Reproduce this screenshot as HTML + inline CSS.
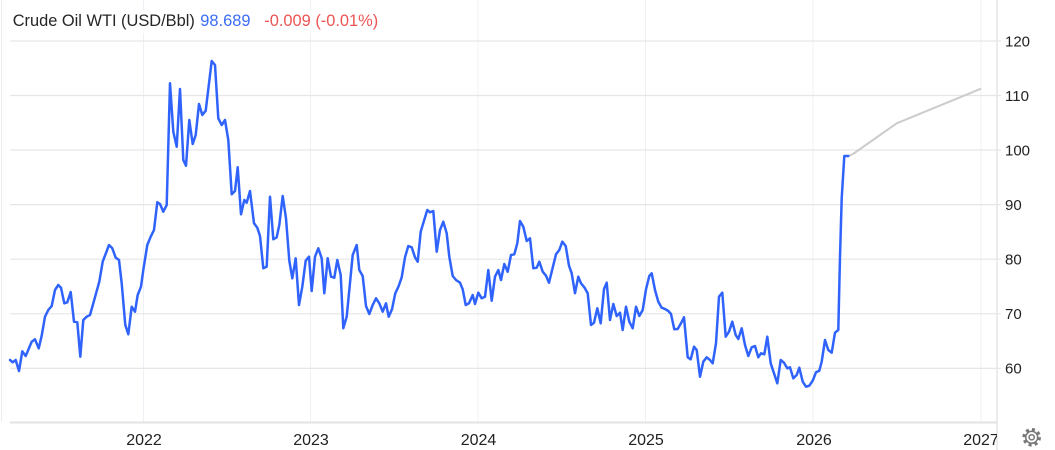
<!DOCTYPE html>
<html>
<head>
<meta charset="utf-8">
<style>
  html,body{margin:0;padding:0;background:#fff;}
  body{width:1055px;height:450px;overflow:hidden;}
  svg{display:block;font-family:"Liberation Sans",Arial,sans-serif;}
</style>
</head>
<body>
<svg width="1055" height="450" viewBox="0 0 1055 450" xmlns="http://www.w3.org/2000/svg">
  <rect x="0" y="0" width="1055" height="450" fill="#fff"/>
  <!-- borders -->
  <line x1="1.5" y1="0" x2="1.5" y2="422" stroke="#ececec" stroke-width="1"/>
  <line x1="997" y1="0" x2="997" y2="450" stroke="#e6e6e6" stroke-width="1.5"/>
  <!-- vertical grid -->
  <g stroke="#edf1f5" stroke-width="1">
    <line x1="143.5" y1="0" x2="143.5" y2="422"/>
    <line x1="310.5" y1="0" x2="310.5" y2="422"/>
    <line x1="478" y1="0" x2="478" y2="422"/>
    <line x1="645.5" y1="0" x2="645.5" y2="422"/>
    <line x1="813" y1="0" x2="813" y2="422"/>
    <line x1="981" y1="0" x2="981" y2="422"/>
  </g>
  <!-- horizontal grid -->
  <g stroke="#e6e6e6" stroke-width="1.2">
    <line x1="10" y1="41" x2="1001" y2="41"/>
    <line x1="10" y1="95.5" x2="1001" y2="95.5"/>
    <line x1="10" y1="150" x2="1001" y2="150"/>
    <line x1="10" y1="204.6" x2="1001" y2="204.6"/>
    <line x1="10" y1="259.2" x2="1001" y2="259.2"/>
    <line x1="10" y1="313.8" x2="1001" y2="313.8"/>
    <line x1="10" y1="368.4" x2="1001" y2="368.4"/>
  </g>
  <line x1="10" y1="422.5" x2="997" y2="422.5" stroke="#e3e3e3" stroke-width="2"/>

  <!-- title background -->
  <rect x="5" y="10" width="385" height="23" fill="#fff"/>
  <text x="12.7" y="26" font-size="16.4" fill="#262626">Crude Oil WTI (USD/Bbl)</text>
  <text x="200.3" y="26" font-size="16.4" fill="#3b6cf6">98.689</text>
  <text x="264.3" y="26" font-size="16.4" fill="#ec5454">-0.009 (-0.01%)</text>

  <!-- y labels -->
  <g font-size="15" fill="#222">
    <text x="1005" y="46.3">120</text>
    <text x="1005" y="100.8">110</text>
    <text x="1005" y="155.3">100</text>
    <text x="1005" y="209.9">90</text>
    <text x="1005" y="264.5">80</text>
    <text x="1005" y="319.1">70</text>
    <text x="1005" y="373.7">60</text>
  </g>
  <!-- x labels -->
  <defs><clipPath id="cx"><rect x="0" y="0" width="997" height="450"/></clipPath></defs>
  <g font-size="16" fill="#222" text-anchor="middle" clip-path="url(#cx)">
    <text x="144" y="445">2022</text>
    <text x="311" y="445">2023</text>
    <text x="478.5" y="445">2024</text>
    <text x="646" y="445">2025</text>
    <text x="814" y="445">2026</text>
    <text x="981" y="445">2027</text>
  </g>

  <!-- forecast -->
  <polyline fill="none" stroke="#cccccc" stroke-width="2" stroke-linejoin="round"
    points="848.3,156 853,154 896.7,123.3 981,88.7"/>
  <!-- series -->
  <polyline fill="none" stroke="#2f63fb" stroke-width="2.5" stroke-linejoin="round" stroke-linecap="round"
    points="10,360 12.7,362.3 15.7,360 19,371 22.3,351.3 25.7,356 31.7,341.7 35,339.3 38.7,348.3 41.7,335.7 45,316.7 48.3,310 51.7,306 55,290 58.3,285 61,287.7 64.3,303.3 67.3,302.3 70.7,292 74,321.7 77.3,322.3 80.3,356.7 83.3,320 86.7,316.7 90,315 93.3,303.3 99.3,281.7 102.7,261.7 109,245 112.3,248.3 115.7,257.7 119,260 121.7,283.3 125.3,325 128.3,334.3 131.7,306.7 135,311.7 137.7,295 141,286.7
    143.3,270 147.3,245 150.7,236.7 154,230 157.3,202.3 160,204 163.3,211.7 166.7,205 170,83.3 173.3,131.7 176.7,146.7 180,89 183.3,160 186,165.7 189.3,120 192.7,144 195.7,135 199,104 202.3,115 205.7,110.7 211.7,61 215,65 218.3,118.3 221.7,125 225,120 228.3,140 231.7,194.3 235,191 237.7,167.3 241,214.3 244.3,200 246.7,202.7 250,191 254,223.3 257.3,227.7 260,236 263.3,268.3 266.7,266.7 270,196.7 273.3,239.3 276.7,237.3 279.3,225 282.7,196 286,218.3 289.3,260.7 292.3,278.3 295.7,258.3 299,305 302.3,286.7 305.7,260.7 309,256.7
    311.7,291 315,256.7 318.3,248.3 321.7,258.3 324.3,293.3 327.7,258.3 331,276.7 334.3,277.7 337.3,260 340.7,275 343.3,328.3 346.7,316.7 352.7,255 356.7,245 359.3,270 362.7,276 366,306 369.3,314 372.7,305 376,298.3 379.3,303.3 382.7,311.7 386,303.3 388.7,316.7 392,309.3 395.3,293.3 398.7,286 401.7,277.3 405,257.3 408.3,246 411.7,247.3 415,257.3 417.7,261.7 420.7,231.7 424,220.7 427.3,210 430,212.3 433.3,211 436.7,251.7 440,230 443.3,221.7 446.7,233.3 449.3,256.7 452.7,276 456,280 460,282.7 462.7,289.3 465.7,305 469,303.3
    472.7,295 475,304 478.3,292.7 481.7,298.3 485,296.7 488.3,270 491.7,300.7 495,276.7 498.3,270 501,280 504.3,264 507.7,271.7 511,255 514.3,254.3 517.3,243.3 520,221 523.3,226.7 526.7,241 530,238.3 533.3,268.3 536.7,267.7 539.3,261.7 542.7,271.7 546,275.7 549,282.7 556,254.3 559.3,250 562.3,241.7 565.7,246 569,265.7 571.7,273.3 575,293.3 578.3,276.7 581,283.3 584.3,287.3 587.7,293.3 591,325 594,322.7 597.3,308.3 600.7,323.3 604,289 606.7,282.7 610,320 613.3,304 616.7,316 620,312.7 622.7,330 626,306.7 629.3,321.7 632.7,328.3 636,306.7 639.3,316 642.7,310 646,289.3 649.3,276
    651.7,273.3 655,290 658.3,301.7 661.7,307.7 665,309 668.3,311 671,314 674.3,329.3 677.7,329 681,323.3 684,317.3 687.7,357.3 690.7,359.3 694,346.7 696.7,350 700,376.7 703.3,361.7 706.7,357.3 710,360 712.7,363.3 716,343.3 719,296.7 722.3,292.7 725.7,336.7 729,331.7 732.3,321.7 735.7,335 738.3,339 741.7,328.3 745,345 748.3,356 751.7,347.3 755,346 758.3,357.3 761,353.3 764.3,354.3 767.3,336.7 770.7,363.3 774,373.3 777.3,383.3 780.7,360 784,362.7 787.3,368.3 790,367.3 793.3,378.3 796.7,375 799.3,367.7 802.7,381.7 806,386.7 809.3,385.7 812.7,380.7 816,372.3 819.3,370.7 821.7,361.7 825,340 828.3,350 831.7,352.7 835,332.7 838.3,330 840,256.7 841.7,198.3 844.3,156 848.3,156"/>

  <!-- gear icon -->
  <g transform="translate(1031.7,437.3)" fill="none" stroke="#777">
    <circle r="7.8" stroke-width="3" stroke-dasharray="3 3.126"/>
    <circle r="6" stroke-width="1.5" fill="#fff"/>
    <circle r="2.6" stroke-width="1.5"/>
  </g>
</svg>
</body>
</html>
